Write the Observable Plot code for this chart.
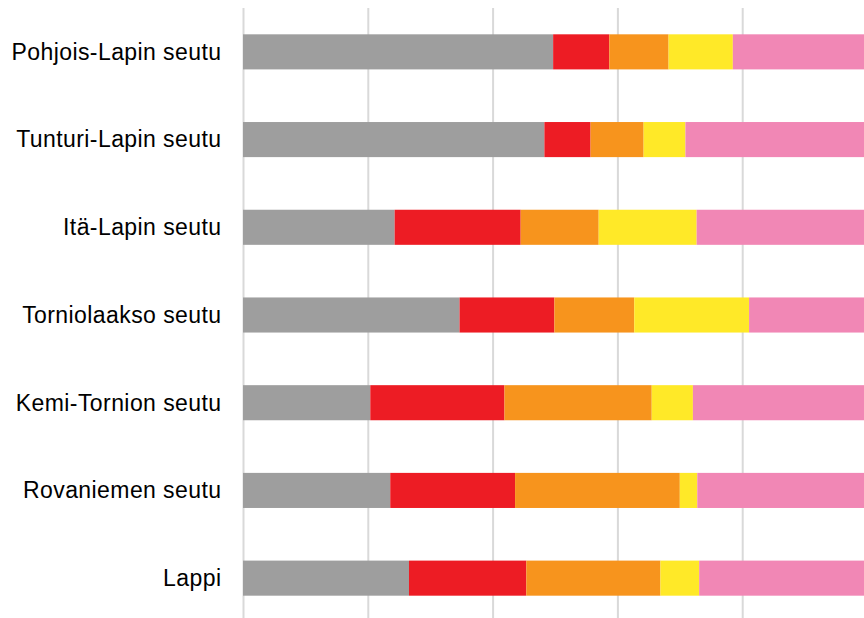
<!DOCTYPE html>
<html>
<head>
<meta charset="utf-8">
<script src="https://cdn.jsdelivr.net/npm/d3@7"></script>
<script src="https://cdn.jsdelivr.net/npm/@observablehq/plot@0.6"></script>
<style>
  html, body { margin: 0; padding: 0; background: #fff; overflow: hidden; }
  #chart svg { display: block; overflow: hidden; }
  #chart svg text { letter-spacing: 0.42px; }
</style>
</head>
<body>
<div id="chart"></div>
<script>
const categories = ["Pohjois-Lapin seutu", "Tunturi-Lapin seutu", "Itä-Lapin seutu", "Torniolaakso seutu", "Kemi-Tornion seutu", "Rovaniemen seutu", "Lappi"];
const seriesNames = ["s1", "s2", "s3", "s4", "s5"];
const seriesColors = ["#9e9e9e", "#ed1c24", "#f7941d", "#ffe928", "#f187b5"];
const s1 = [49.7, 48.3, 24.3, 34.7, 20.4, 23.6, 26.6];
const s2 = [9.0, 7.4, 20.2, 15.2, 21.5, 20.0, 18.8];
const s3 = [9.5, 8.5, 12.5, 12.8, 23.6, 26.4, 21.5];
const s4 = [10.3, 6.7, 15.7, 18.4, 6.6, 2.8, 6.2];
const s5 = [21.6, 29.1, 27.2, 18.9, 28.0, 27.1, 26.9];
const gridTicks = [0, 20, 40, 60, 80, 100];

const seriesValues = [s1, s2, s3, s4, s5];
const data = [];
categories.forEach((c, i) => {
  seriesNames.forEach((s, j) => {
    data.push({category: c, series: s, value: seriesValues[j][i]});
  });
});

const chart = Plot.plot({
  width: 864,
  height: 618,
  marginLeft: 243,
  marginRight: -3,
  marginTop: 8,
  marginBottom: -4,
  style: {fontFamily: "'Liberation Sans', Arial, sans-serif", fontSize: "23px", color: "#000", background: "#fff"},
  x: {domain: [0, 100], axis: null},
  y: {domain: categories, paddingInner: 0.6, paddingOuter: 0.3, round: false, label: null},
  color: {domain: seriesNames, range: seriesColors},
  marks: [
    Plot.ruleX(gridTicks, {stroke: "#d9d9d9", strokeWidth: 2}),
    Plot.barX(data, Plot.stackX({y: "category", x: "value", fill: "series", order: null})),
    Plot.axisY({tickSize: 0, tickPadding: 22, label: null, fontSize: 23})
  ]
});
document.getElementById("chart").appendChild(chart);
</script>
</body>
</html>
